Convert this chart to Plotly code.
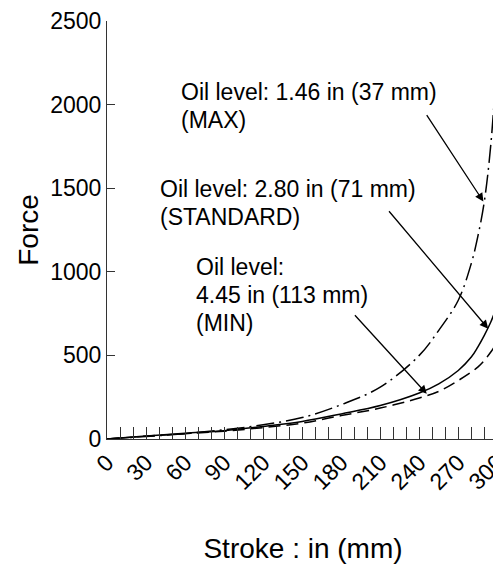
import plotly.graph_objects as go

# stroke positions (x) and force readings for the three oil levels
stroke = [0, 30, 60, 90, 120, 150, 180, 210, 240, 255, 270, 280, 285, 290, 295, 300]
force_max = [0, 15, 32, 55, 85, 128, 205, 310, 500, 650, 830, 1050, 1210, 1420, 1760, 2300]
force_standard = [0, 18, 35, 50, 75, 105, 150, 200, 275, 330, 410, 490, 550, 620, 700, 800]
force_min = [0, 17, 32, 47, 68, 95, 140, 185, 245, 285, 350, 400, 430, 470, 520, 580]

x_ticks = [0, 30, 60, 90, 120, 150, 180, 210, 240, 270, 300]
y_ticks = [0, 500, 1000, 1500, 2000, 2500]

font_family = "Liberation Sans, Arial, Helvetica, sans-serif"
font_size = 23
line_pitch = 28

fig = go.Figure()
fig.add_trace(go.Scatter(x=stroke, y=force_max, mode="lines", line_shape="spline",
                         line=dict(color="black", width=1.5, dash="18px,5px,2px,5px")))
fig.add_trace(go.Scatter(x=stroke, y=force_standard, mode="lines", line_shape="spline",
                         line=dict(color="black", width=1.5)))
fig.add_trace(go.Scatter(x=stroke, y=force_min, mode="lines", line_shape="spline",
                         line=dict(color="black", width=1.5, dash="12px,6px")))

labels = [
    (["Oil level: 1.46 in (37 mm)", "(MAX)"], 55.3, 2168),
    (["Oil level: 2.80 in (71 mm)", "(STANDARD)"], 39.5, 1583),
    (["Oil level:", "4.45 in (113 mm)", "(MIN)"], 66.5, 1121),
]
arrows = [
    ((245.0, 1946), (289.3, 1420)),
    ((215.8, 1371), (293.0, 660)),
    ((189.5, 749), (245.8, 270)),
]

annotations = []
for lines, lx, ly in labels:
    for i, line in enumerate(lines):
        annotations.append(dict(x=lx, y=ly, xref="x", yref="y", text=line, showarrow=False,
                                xanchor="left", yanchor="top", align="left",
                                yshift=-line_pitch * i,
                                font=dict(size=font_size, color="black", family=font_family)))
for (tx, ty), (hx, hy) in arrows:
    annotations.append(dict(x=hx, y=hy, ax=tx, ay=ty, xref="x", yref="y", axref="x", ayref="y",
                            text="", showarrow=True, arrowhead=2, arrowsize=1.3,
                            arrowwidth=1.3, arrowcolor="black"))

fig.update_layout(
    width=501,
    height=556,
    showlegend=False,
    plot_bgcolor="white",
    paper_bgcolor="white",
    font=dict(family=font_family, size=font_size, color="black"),
    margin=dict(l=99, r=0, t=11, b=122.5),
    xaxis=dict(
        range=[0, 301.3],
        tickvals=x_ticks,
        tickangle=-45,
        ticklabeloverflow="allow",
        ticks="inside",
        ticklen=12,
        tickcolor="#333",
        minor=dict(dtick=10, ticks="inside", ticklen=12, tickcolor="#333"),
        showline=True,
        linecolor="#333",
        linewidth=1,
        showgrid=False,
        zeroline=False,
        title=dict(text="Stroke : in (mm)", standoff=49),
    ),
    yaxis=dict(
        range=[0, 2500],
        tickvals=y_ticks,
        ticklabeloverflow="allow",
        ticks="inside",
        ticklen=8,
        tickcolor="#333",
        showline=True,
        linecolor="#333",
        linewidth=1,
        showgrid=False,
        zeroline=False,
        title=dict(text="Force", standoff=3),
    ),
    annotations=annotations,
)

fig.write_html("out.html")
